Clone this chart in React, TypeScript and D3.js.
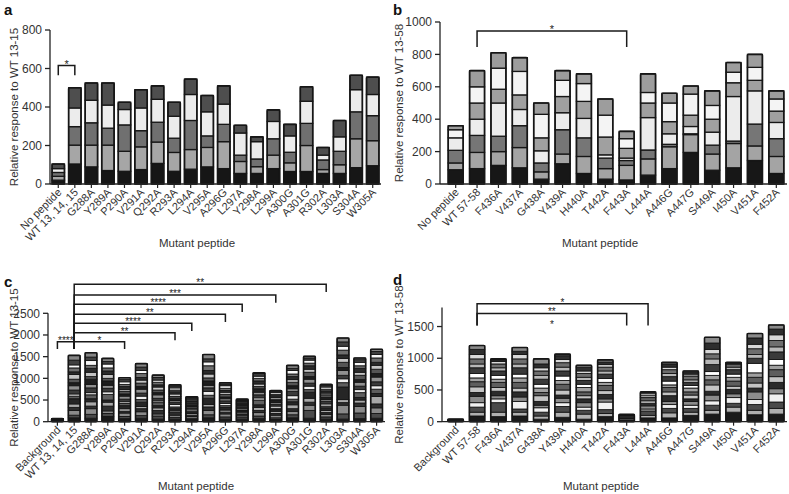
import React from "react";
import * as d3 from "d3";

const FONT = "'Liberation Sans', Arial, Helvetica, sans-serif";

// ---------- Panel a ----------
const catsA = ["No peptide", "WT 13, 14, 15", "G288A", "Y289A", "P290A", "V291A", "Q292A", "R293A", "L294A", "V295A", "A296G", "L297A", "Y298A", "L299A", "A300G", "A301G", "R302A", "L303A", "S304A", "W305A"];
const valsA = [
  [20, 20, 20, 20, 24],
  [104, 98, 96, 97, 105],
  [89, 113, 116, 117, 90],
  [70, 132, 88, 120, 115],
  [66, 104, 137, 80, 38],
  [75, 118, 84, 118, 95],
  [107, 111, 103, 119, 70],
  [66, 98, 74, 114, 73],
  [77, 102, 151, 135, 80],
  [89, 101, 60, 125, 85],
  [80, 140, 90, 105, 95],
  [55, 62, 33, 115, 40],
  [55, 35, 40, 90, 25],
  [80, 70, 85, 90, 60],
  [65, 45, 55, 85, 60],
  [65, 135, 115, 115, 75],
  [55, 20, 50, 25, 40],
  [55, 45, 70, 75, 85],
  [85, 150, 140, 115, 75],
  [95, 130, 130, 110, 90],
];
const colorsA = ["#161616", "#a6a6a6", "#707070", "#ececec", "#4e4e4e"];
const ticksA = [0, 200, 400, 600, 800];

// ---------- Panel b ----------
const catsB = ["No peptide", "WT 57-58", "F436A", "V437A", "G438A", "Y439A", "H440A", "T442A", "F443A", "L444A", "A446G", "A447G", "S449A", "I450A", "V451A", "F452A"];
const valsB = [
  [88, 42, 78, 77, 0, 50, 25],
  [95, 100, 105, 100, 100, 100, 100],
  [115, 85, 95, 205, 85, 130, 95],
  [100, 125, 135, 100, 90, 145, 85],
  [30, 45, 55, 75, 80, 145, 70],
  [125, 60, 150, 105, 100, 100, 60],
  [65, 105, 115, 120, 105, 110, 60],
  [30, 65, 65, 20, 110, 135, 100],
  [25, 90, 30, 15, 60, 60, 45],
  [55, 100, 55, 200, 90, 65, 115],
  [95, 135, 15, 65, 75, 115, 60],
  [195, 110, 5, 45, 70, 130, 50],
  [85, 100, 55, 80, 80, 85, 90],
  [100, 150, 15, 275, 85, 65, 60],
  [145, 90, 135, 205, 65, 80, 80],
  [65, 105, 110, 100, 70, 75, 50],
];
const colorsB = ["#171717", "#a4a4a4", "#767676", "#ececec", "#a0a0a0", "#f4f4f4", "#9d9d9d"];
const ticksB = [0, 200, 400, 600, 800, 1000];

// ---------- Panel c ----------
const catsC = ["Background", "WT 13, 14, 15", "G288A", "Y289A", "P290A", "V291A", "Q292A", "R293A", "L294A", "V295A", "A296G", "L297A", "Y298A", "L299A", "A300G", "A301G", "R302A", "L303A", "S304A", "W305A"];
const valsC = [
  [15, 5, 5, 5, 5, 5, 5, 5, 5, 5, 0, 5, 0, 5, 0, 5, 0, 0],
  [90, 60, 110, 70, 80, 120, 60, 50, 90, 100, 70, 80, 110, 60, 90, 70, 110, 110],
  [80, 90, 130, 60, 100, 70, 90, 50, 110, 80, 120, 60, 100, 90, 70, 110, 80, 100],
  [120, 70, 60, 110, 90, 50, 130, 60, 80, 70, 100, 60, 90, 80, 70, 90, 60, 70],
  [70, 50, 80, 40, 60, 70, 50, 40, 60, 70, 50, 60, 40, 70, 50, 60, 50, 45],
  [80, 60, 90, 70, 50, 100, 60, 80, 70, 90, 60, 80, 70, 60, 90, 70, 80, 80],
  [60, 70, 50, 80, 60, 50, 70, 40, 60, 80, 50, 60, 70, 50, 60, 50, 60, 55],
  [60, 40, 50, 60, 40, 50, 40, 60, 50, 40, 50, 40, 60, 50, 40, 50, 40, 30],
  [50, 30, 40, 30, 40, 30, 30, 40, 30, 30, 40, 30, 30, 30, 30, 30, 20, 15],
  [90, 70, 100, 80, 60, 140, 70, 90, 80, 60, 100, 70, 90, 80, 110, 90, 70, 100],
  [60, 50, 70, 40, 50, 60, 40, 50, 60, 50, 40, 60, 50, 40, 50, 60, 40, 30],
  [60, 50, 40, 30, 40, 30, 20, 30, 30, 30, 40, 20, 30, 30, 20, 20, 0, 0],
  [70, 60, 80, 50, 70, 60, 110, 50, 70, 60, 80, 50, 60, 70, 60, 50, 60, 20],
  [50, 40, 60, 40, 50, 40, 30, 50, 40, 40, 50, 30, 40, 40, 30, 40, 30, 20],
  [90, 70, 80, 60, 90, 70, 60, 80, 100, 60, 70, 80, 60, 70, 60, 80, 50, 70],
  [80, 180, 120, 70, 90, 140, 60, 80, 70, 90, 60, 100, 70, 80, 60, 70, 50, 40],
  [60, 50, 60, 40, 50, 60, 40, 50, 60, 40, 50, 60, 40, 50, 40, 50, 40, 20],
  [60, 120, 200, 60, 70, 290, 100, 90, 80, 110, 70, 120, 90, 80, 110, 90, 100, 90],
  [70, 130, 150, 80, 70, 60, 110, 70, 80, 90, 60, 100, 70, 90, 60, 80, 60, 40],
  [80, 110, 130, 90, 170, 70, 100, 80, 90, 110, 80, 100, 90, 70, 100, 80, 70, 50],
];
const colorsC = ["#1a1a1a", "#4a4a4a", "#8a8a8a", "#2e2e2e", "#a8a8a8", "#262626", "#5e5e5e", "#eeeeee", "#3a3a3a", "#909090", "#1e1e1e", "#555555", "#c4c4c4", "#2b2b2b", "#6e6e6e", "#f8f8f8", "#404040", "#858585"];
const ticksC = [0, 500, 1000, 1500, 2000, 2500];

// ---------- Panel d ----------
const catsD = ["Background", "WT 57-58", "F436A", "V437A", "G438A", "Y439A", "H440A", "T442A", "F443A", "L444A", "A446G", "A447G", "S449A", "I450A", "V451A", "F452A"];
const valsD = [
  [10, 5, 5, 5, 5, 5, 5, 0, 0, 0, 0, 0, 0, 0, 0, 0],
  [90, 60, 80, 70, 100, 60, 90, 80, 60, 70, 90, 60, 80, 70, 80, 60],
  [80, 70, 150, 60, 50, 70, 60, 80, 50, 60, 70, 50, 60, 40, 25, 15],
  [90, 60, 50, 120, 70, 80, 60, 90, 70, 60, 100, 60, 80, 70, 50, 60],
  [40, 50, 60, 70, 40, 60, 90, 50, 70, 60, 80, 60, 70, 50, 60, 80],
  [70, 80, 90, 60, 70, 50, 80, 90, 60, 70, 80, 60, 70, 50, 60, 25],
  [40, 80, 60, 50, 70, 60, 50, 60, 70, 50, 60, 50, 60, 40, 60, 30],
  [80, 50, 60, 120, 50, 70, 60, 80, 50, 60, 70, 50, 60, 40, 40, 35],
  [30, 20, 15, 20, 15, 15, 0, 0, 0, 0, 0, 0, 0, 0, 0, 0],
  [60, 40, 70, 30, 50, 40, 40, 50, 40, 30, 20, 0, 0, 0, 0, 0],
  [60, 80, 70, 60, 50, 90, 60, 70, 40, 60, 70, 50, 60, 40, 50, 25],
  [100, 50, 60, 50, 60, 40, 60, 50, 60, 40, 50, 40, 60, 30, 30, 20],
  [120, 60, 80, 70, 90, 60, 100, 80, 70, 60, 110, 90, 80, 70, 100, 90],
  [150, 80, 60, 90, 60, 70, 50, 80, 60, 50, 70, 40, 40, 20, 10, 5],
  [110, 70, 90, 80, 120, 60, 80, 90, 70, 150, 80, 60, 90, 70, 100, 70],
  [120, 90, 100, 130, 80, 100, 90, 110, 70, 90, 120, 80, 100, 90, 90, 65],
];
const colorsD = ["#1a1a1a", "#b0b0b0", "#4a4a4a", "#f0f0f0", "#8c8c8c", "#2b2b2b", "#c4c4c4", "#5e5e5e", "#a0a0a0", "#ffffff", "#3a3a3a", "#b8b8b8", "#6e6e6e", "#d8d8d8", "#2e2e2e", "#8a8a8a"];
const ticksD = [0, 500, 1000, 1500];

// ---------- annotations ----------
type Bracket = { a: string; b: string; y: number; la: number; lb: number; label: string };
type Note = { a: string; b: string; y: number; label: string };

const bracketsA: Bracket[] = [{ a: "No peptide", b: "WT 13, 14, 15", y: 615, la: 565, lb: 565, label: "*" }];
const bracketsB: Bracket[] = [{ a: "WT 57-58", b: "F443A", y: 945, la: 845, lb: 845, label: "*" }];
const bracketsC: Bracket[] = [
  { a: "Background", b: "WT 13, 14, 15", y: 1846, la: 1677, lb: 1677, label: "****" },
  { a: "WT 13, 14, 15", b: "P290A", y: 1846, la: 1677, lb: 1677, label: "*" },
  { a: "WT 13, 14, 15", b: "R293A", y: 2054, la: 1677, lb: 1877, label: "**" },
  { a: "WT 13, 14, 15", b: "L294A", y: 2269, la: 1677, lb: 2092, label: "****" },
  { a: "WT 13, 14, 15", b: "A296G", y: 2477, la: 1677, lb: 2300, label: "**" },
  { a: "WT 13, 14, 15", b: "L297A", y: 2708, la: 1677, lb: 2531, label: "****" },
  { a: "WT 13, 14, 15", b: "L299A", y: 2923, la: 1677, lb: 2746, label: "***" },
  { a: "WT 13, 14, 15", b: "R302A", y: 3169, la: 1677, lb: 2992, label: "**" },
];
const bracketsD: Bracket[] = [
  { a: "WT 57-58", b: "L444A", y: 1861, la: 1515, lb: 1515, label: "*" },
  { a: "WT 57-58", b: "F443A", y: 1706, la: 1515, lb: 1515, label: "**" },
];
const notesD: Note[] = [{ a: "WT 57-58", b: "F443A", y: 1515, label: "*" }];

type PanelProps = {
  letter: string; letterX: number; letterY: number;
  cats: string[]; vals: number[][]; colors: string[];
  xr: [number, number]; axisX: number; axisEnd: number; pad: number;
  yd: [number, number]; yr: [number, number]; ticks: number[];
  yTitle: string; yTitleX: number; xTitleX: number; xTitleY: number;
  brackets: Bracket[]; notes?: Note[]; segStroke: number; starSize: number;
};

function Panel(p: PanelProps) {
  const x = d3.scaleBand().domain(p.cats).range(p.xr).paddingInner(p.pad).paddingOuter(p.pad / 2);
  const y = d3.scaleLinear().domain(p.yd).range(p.yr);
  const keys = p.colors.map((_, j) => "k" + j);
  const rows = p.cats.map((c, i) => {
    const r: Record<string, any> = { cat: c };
    p.vals[i].forEach((v, j) => (r["k" + j] = v));
    return r;
  });
  const layers = d3.stack<Record<string, any>>().keys(keys)(rows);
  const cx = (c: string) => (x(c) as number) + x.bandwidth() / 2;
  const y0 = y(0);
  const ink = "#222";
  return (
    <g>
      <text x={p.letterX} y={p.letterY} fontFamily={FONT} fontWeight="bold" fontSize={15} fill="#111">{p.letter}</text>
      {layers.map((layer, j) => (
        <g key={j}>
          {layer.map((d, i) => {
            const h = y(d[0]) - y(d[1]);
            if (h <= 0) return null;
            return (
              <rect key={i} x={x(p.cats[i])} y={y(d[1])} width={x.bandwidth()} height={h}
                fill={p.colors[j]} stroke="#161616" strokeWidth={p.segStroke} />
            );
          })}
        </g>
      ))}
      {rows.map((r, i) => {
        const tot = d3.sum(p.vals[i]);
        return (
          <rect key={"o" + i} x={x(p.cats[i])} y={y(tot)} width={x.bandwidth()} height={y0 - y(tot)}
            fill="none" stroke="#161616" strokeWidth={1.6} rx={1} />
        );
      })}
      <line x1={p.axisX} x2={p.axisX} y1={y0} y2={y(p.yd[1])} stroke={ink} strokeWidth={1.3} />
      {p.ticks.map((t) => (
        <g key={t}>
          <line x1={p.axisX - 5} x2={p.axisX} y1={y(t)} y2={y(t)} stroke={ink} strokeWidth={1.3} />
          <text x={p.axisX - 8} y={y(t)} dy="0.35em" textAnchor="end" fontFamily={FONT} fontSize={12} fill="#333">{t}</text>
        </g>
      ))}
      <line x1={p.axisX} x2={p.axisEnd} y1={y0} y2={y0} stroke={ink} strokeWidth={1.3} />
      {p.cats.map((c) => (
        <g key={c}>
          <line x1={cx(c)} x2={cx(c)} y1={y0} y2={y0 + 4} stroke={ink} strokeWidth={1.2} />
          <text transform={`translate(${cx(c) + 4},${y0 + 9}) rotate(-45)`} textAnchor="end" fontFamily={FONT} fontSize={11} fill="#333">{c}</text>
        </g>
      ))}
      <text transform={`translate(${p.yTitleX},${(p.yr[0] + p.yr[1]) / 2}) rotate(-90)`} textAnchor="middle" fontFamily={FONT} fontSize={11.5} fill="#333">{p.yTitle}</text>
      <text x={p.xTitleX} y={p.xTitleY} textAnchor="middle" fontFamily={FONT} fontSize={11.5} fill="#333">Mutant peptide</text>
      {p.brackets.map((b, i) => {
        const xa = cx(b.a), xb = cx(b.b);
        return (
          <g key={"b" + i}>
            <path d={`M${xa},${y(b.la)}V${y(b.y)}H${xb}V${y(b.lb)}`} fill="none" stroke="#1a1a1a" strokeWidth={1.5} />
            <text x={(xa + xb) / 2} y={y(b.y) + 2} textAnchor="middle" fontFamily={FONT} fontSize={p.starSize} fill="#222">{b.label}</text>
          </g>
        );
      })}
      {(p.notes || []).map((n, i) => (
        <text key={"n" + i} x={(cx(n.a) + cx(n.b)) / 2} y={y(n.y) + 2} textAnchor="middle" fontFamily={FONT} fontSize={p.starSize} fill="#222">{n.label}</text>
      ))}
    </g>
  );
}

export default function App() {
  return (
    <svg width={789} height={494} style={{ position: "absolute", left: 0, top: 0, background: "#fff" }}>
      <rect width={789} height={494} fill="#fff" />
      <Panel letter="a" letterX={4} letterY={15} cats={catsA} vals={valsA} colors={colorsA}
        xr={[50, 381]} axisX={50} axisEnd={381} pad={0.25} yd={[0, 800]} yr={[184, 30]} ticks={ticksA}
        yTitle="Relative response to WT 13-15" yTitleX={18} xTitleX={197} xTitleY={247}
        brackets={bracketsA} segStroke={1.3} starSize={11} />
      <Panel letter="b" letterX={393} letterY={15} cats={catsB} vals={valsB} colors={colorsB}
        xr={[445, 787]} axisX={440} axisEnd={787} pad={0.3} yd={[0, 1000]} yr={[184, 22]} ticks={ticksB}
        yTitle="Relative response to WT 13-58" yTitleX={403} xTitleX={600} xTitleY={247}
        brackets={bracketsB} segStroke={1.3} starSize={11} />
      <Panel letter="c" letterX={4} letterY={287} cats={catsC} vals={valsC} colors={colorsC}
        xr={[49, 385]} axisX={48} axisEnd={385} pad={0.3} yd={[0, 2500]} yr={[421.7, 313.3]} ticks={ticksC}
        yTitle="Relative response to WT 13-15" yTitleX={18} xTitleX={196} xTitleY={490}
        brackets={bracketsC} segStroke={0.9} starSize={10} />
      <Panel letter="d" letterX={393} letterY={285} cats={catsD} vals={valsD} colors={colorsD}
        xr={[445, 787]} axisX={442} axisEnd={787} pad={0.28} yd={[0, 1800]} yr={[421.7, 307.5]} ticks={ticksD}
        yTitle="Relative response to WT 13-58" yTitleX={403} xTitleX={601} xTitleY={490}
        brackets={bracketsD} notes={notesD} segStroke={0.9} starSize={10} />
    </svg>
  );
}
